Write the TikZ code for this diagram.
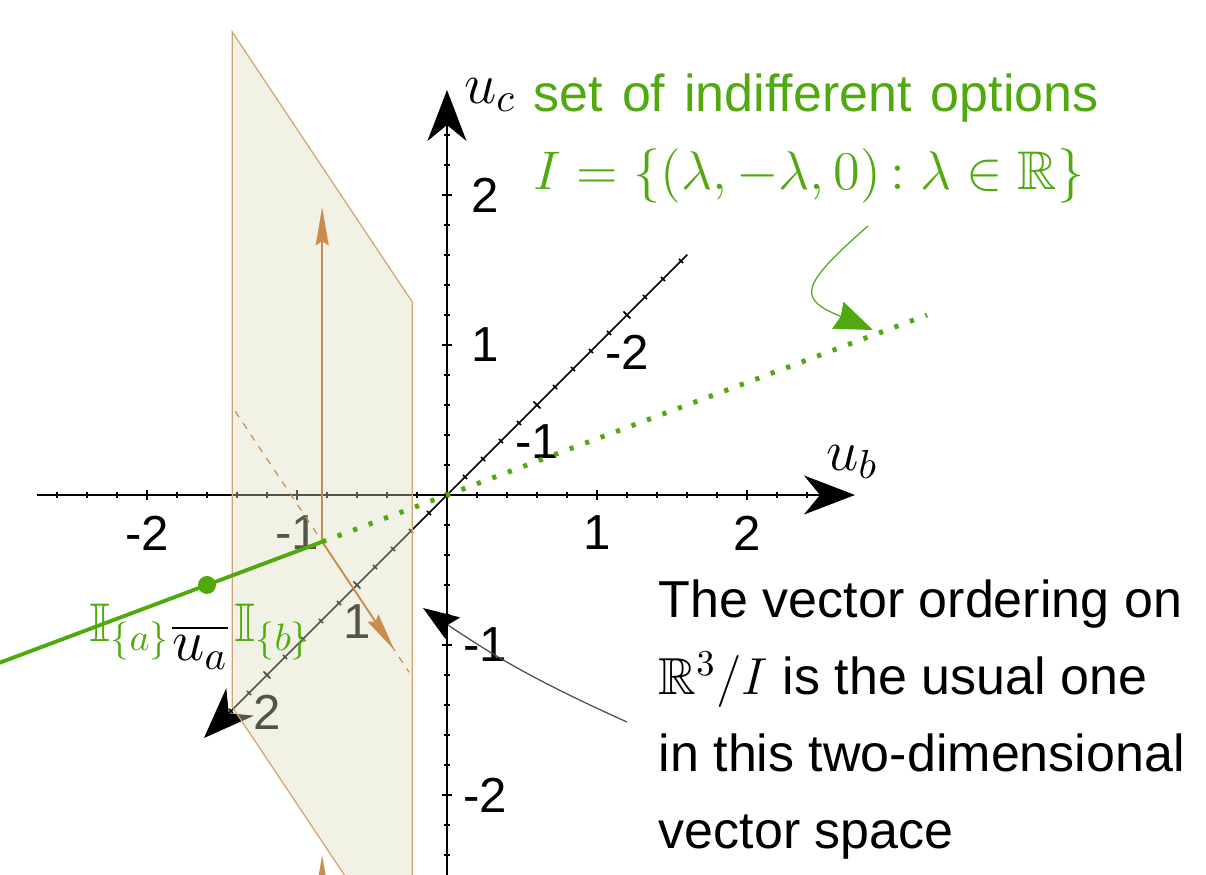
\RequirePackage{fix-cm}
\documentclass[tikz,border=0pt]{standalone}
\usepackage{amsmath}
\usepackage{amssymb}
\usepackage[no-math]{fontspec}
\setmainfont{Liberation Sans}
\usetikzlibrary{arrows.meta,positioning}
\definecolor{indgreen}{RGB}{80,170,15}
\definecolor{edgeorange}{RGB}{212,160,110}
\definecolor{vecorange}{RGB}{200,140,75}
\definecolor{planefill}{RGB}{221,219,190}
\tikzset{
  axisline/.style={line width=0.6pt,-{Stealth[length=5.1mm,width=3.9mm,inset=1.6mm]}},
  tickmark/.style={line width=0.45pt},
  ticklbl/.style={font=\fontsize{14}{16}\selectfont,inner sep=0pt},
  axislbl/.style={font=\fontsize{16.5}{20}\selectfont,inner sep=0pt},
  planeface/.style={fill=planefill,fill opacity=0.385},
  planeedge/.style={draw=edgeorange,line width=0.35pt},
  vec/.style={draw=vecorange,line width=0.55pt,-{Stealth[length=3.8mm,width=1.3mm,inset=0.4mm]}},
  guide/.style={draw=vecorange,line width=0.35pt,dash pattern=on 2pt off 2pt},
  indset/.style={draw=indgreen,line width=1.1pt},
  indfree/.style={draw=indgreen,line width=1.4pt,dash pattern=on 1.2pt off 3.5pt},
  indlbl/.style={text=indgreen,font=\fontsize{15.5}{18}\selectfont,inner sep=0pt},
  indpointer/.style={draw=indgreen,line width=0.35pt,-{Stealth[length=3.8mm,width=2.9mm,inset=0.3mm]}},
  ordpointer/.style={draw=black!70,line width=0.35pt,-{Stealth[length=3.6mm,width=2.6mm,inset=0.6mm,color=black]}},
  bodytext/.style={font=\fontsize{14.8}{21.9}\selectfont,inner sep=0pt,align=left}
}

\begin{document}
\begin{tikzpicture}[x={(1.5cm,0cm)},y={(0cm,1.5cm)},z={(-0.9cm,-0.9cm)}]
\useasboundingbox (-4.47cm,-3.80cm) rectangle (7.59cm,4.95cm);
\clip (-4.47cm,-3.80cm) rectangle (7.59cm,4.95cm);

% Axis ends
\coordinate (O) at (0,0,0);
\coordinate (bmin) at (-2.73,0,0);
\coordinate (bmax) at (2.72,0,0);
\coordinate (cmin) at (0,-2.8,0);
\coordinate (cmax) at (0,2.7,0);
\coordinate (amin) at (0,0,-2.67);
\coordinate (amax) at (0,0,2.7);

% Axes
\draw[axisline] (bmin) -- (bmax);
\draw[axisline] (cmin) -- (cmax);
\draw[axisline,line width=0.45pt] (amin) -- (amax);

% Ticks
\foreach \k in {-13,...,13}{
  \pgfmathsetmacro\t{\k/5}
  \draw[tickmark] (\t,0,0) ++(0cm,-0.03cm) -- ++(0cm,0.06cm);
  \draw[tickmark] (0,0,\t) ++(-0.021cm,0.021cm) -- ++(0.042cm,-0.042cm);
}
\foreach \k in {-13,...,12}{
  \pgfmathsetmacro\t{\k/5}
  \draw[tickmark] (0,\t,0) ++(-0.03cm,0cm) -- ++(0.06cm,0cm);
}
\foreach \t in {-2,-1,1,2}{
  \draw[tickmark] (\t,0,0) ++(0cm,-0.05cm) -- ++(0cm,0.1cm);
  \draw[tickmark] (0,\t,0) ++(-0.05cm,0cm) -- ++(0.1cm,0cm);
  \draw[tickmark] (0,0,\t) ++(-0.035cm,0.035cm) -- ++(0.07cm,-0.07cm);
  \node[ticklbl,yshift=-0.38cm] (tb\t) at (\t,0,0) {\t};
  \node[ticklbl,xshift=0.38cm] (tc\t) at (0,\t,0) {\t};
  \node[ticklbl,yshift=-0.37cm] (ta\t) at (0,0,\t) {\t};
}

% Axis labels
\node[axislbl] (ucl) at (0.43cm,4.0cm) {$u_c$};
\node[axislbl] (ubl) at (4.05cm,0.33cm) {$u_b$};
\node[axislbl] (ual) at (-2.47cm,-1.52cm) {$\overline{u_a}$};

% Pointer to the quotient text
\coordinate (ordA) at (1.80cm,-2.27cm);
\coordinate (ordB) at (-0.24cm,-1.13cm);
\draw[ordpointer] (ordA) to[bend left=5] (ordB);

% Plane through the foot point
\coordinate (pl1) at (-2.02,2.5,-0.98);
\coordinate (pl2) at (0.98,2.5,2.02);
\coordinate (pl3) at (0.98,-2,2.02);
\coordinate (pl4) at (-2.02,-2,-0.98);
\fill[planeface] (pl1) -- (pl2) -- (pl3) -- (pl4) -- cycle;
\draw[planeedge] (pl1) -- (pl2) -- (pl3) -- (pl4) -- cycle;

% Vectors in the plane
\coordinate (P0) at (-0.52,0,0.52);
\coordinate (gA) at (-1.97,0,-0.93);
\coordinate (gB) at (0.93,0,1.97);
\coordinate (vR) at (0.68,0,1.72);
\coordinate (vU) at (-0.52,2.23,0.52);
\coordinate (vL0) at (-0.52,-3,0.52);
\coordinate (vL) at (-0.52,-2.09,0.52);
\draw[guide] (gA) -- (gB);
\draw[vec] (P0) -- (vR);
\draw[vec] (P0) -- (vU);
\draw[vec] (vL0) -- (vL);

% Indifference line
\coordinate (iL) at (-2,0,2);
\coordinate (iD) at (-1,0,1);
\coordinate (iR) at (2,0,-2);
\draw[indset] (iL) -- (P0);
\draw[indfree] (P0) -- (iR);
\fill[indgreen] (iD) circle (0.09cm);
\node[indlbl] (la) at (-3.17cm,-1.37cm) {$\mathbb{I}_{\{a\}}$};
\node[indlbl] (lb) at (-1.74cm,-1.37cm) {$\mathbb{I}_{\{b\}}$};

% Texts
\node[indlbl,font=\fontsize{14.8}{18}\selectfont,anchor=base west] (iname) at (0.86cm,3.83cm) {\spaceskip=5.4pt plus 1pt\relax set of indifferent options};
\node[indlbl,anchor=base west] (iset) at (0.86cm,3.05cm) {$I=\{(\lambda,-\lambda,0)\mathrel{\mkern-2mu:}\lambda\in\mathbb{R}\}$};
\coordinate (ptrA) at (4.21cm,2.69cm);
\coordinate (ptrB) at (4.26cm,1.65cm);
\draw[indpointer] (ptrA) .. controls (3.50cm,2.07cm) and (3.52cm,1.96cm) .. (ptrB);
\node[bodytext,anchor=north west] (note) at (2.11cm,-0.84cm) {The vector ordering on\\ $\mathbb{R}^3/I$ is the usual one\\ in this two-dimensional\\ vector space};

\end{tikzpicture}
\end{document}
